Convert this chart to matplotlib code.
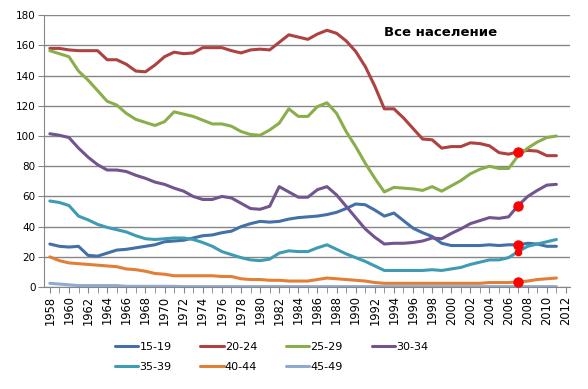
import matplotlib.pyplot as plt
import numpy as np

years = list(range(1958, 2012))

# коэффициенты рождаемости по возрастным группам
v15_19 = [28.5, 27, 26.5, 27, 21, 20.5, 22.5, 24.5, 25, 26, 27, 28, 30, 30.5, 31, 32.5,
          34, 34.5, 36, 37, 40, 42, 43.5, 43, 43.5, 45, 46, 46.5, 47, 48, 49.5, 52, 55,
          54.5, 51, 47, 49, 44, 39, 36, 33.5, 29, 27.5, 27.5, 27.5, 27.5, 28, 27.5, 28,
          28, 29, 28.5, 27, 27]
v20_24 = [158, 158, 157, 156.5, 156.5, 156.5, 150.5, 150.5, 147.5, 143, 142.5, 147,
          152.5, 155.5, 154.5, 155, 158.5, 158.5, 158.5, 156.5, 155, 157, 157.5, 157,
          162, 167, 165.5, 164, 167.5, 170, 168, 163, 156, 146, 133, 118, 118, 112, 105,
          98, 97.5, 92, 93, 93, 95.5, 95, 93.5, 89, 88, 89.5, 90.5, 90, 87, 87]
v25_29 = [156.5, 154.5, 152.5, 143, 137, 130, 123, 120.5, 115, 111, 109, 107, 109.5,
          116, 114.5, 113, 110.5, 108, 108, 106.5, 103, 101, 100.5, 104, 108.5, 118, 113,
          113, 119.5, 122, 115, 103, 93, 82, 72, 63, 66, 65.5, 65, 64, 66.5, 63.5, 67,
          70.5, 75, 78, 80, 78.5, 78.5, 87, 92, 96, 99, 100]
v30_34 = [101.5, 100.5, 99, 92, 86, 81, 77.5, 77.5, 76.5, 74, 72, 69.5, 68, 65.5, 63.5,
          60, 58, 58, 60, 59, 55.5, 52, 51.5, 53.5, 66.5, 63, 59.5, 59.5, 64.5, 66.5, 61,
          53.5, 46, 38.5, 33, 28.5, 29, 29, 29.5, 30.5, 32.5, 32, 35.5, 38.5, 42, 44, 46,
          45.5, 46.5, 54, 60, 64, 67.5, 68]
v35_39 = [57, 56, 54, 47, 44.5, 41.5, 39.5, 38, 36.5, 34, 32, 31.5, 32, 32.5, 32.5, 31.5,
          29.5, 27, 23.5, 21.5, 19.5, 18, 17.5, 18.5, 22.5, 24, 23.5, 23.5, 26, 28, 25,
          22, 19.5, 17, 14, 11, 11, 11, 11, 11, 11.5, 11, 12, 13, 15, 16.5, 18, 18, 19.5,
          23.5, 27, 28.5, 30, 31.5]
v40_44 = [20, 17.5, 16, 15.5, 15, 14.5, 14, 13.5, 12, 11.5, 10.5, 9, 8.5, 7.5, 7.5, 7.5,
          7.5, 7.5, 7, 7, 5.5, 5, 5, 4.5, 4.5, 4, 4, 4, 5, 6, 5.5, 5, 4.5, 4, 3, 2.5,
          2.5, 2.5, 2.5, 2.5, 2.5, 2.5, 2.5, 2.5, 2.5, 2.5, 3, 3, 3, 3.5, 4, 5, 5.5, 6]
v45_49 = [2.5, 2, 1.5, 1, 1, 1, 1, 1, 0.5, 0.5, 0.5, 0.5, 0.5, 0.5, 0.3, 0.3, 0.3, 0.3,
          0.3, 0.3, 0.3, 0.3, 0.3, 0.3, 0.3, 0.3, 0.3, 0.3, 0.3, 0.3, 0.3, 0.3, 0.3, 0.3,
          0.3, 0.3, 0.3, 0.3, 0.3, 0.3, 0.3, 0.3, 0.3, 0.3, 0.3, 0.3, 0.3, 0.3, 0.3, 0.3,
          0.3, 0.3, 0.3, 0.3]

labels = ["15-19", "20-24", "25-29", "30-34", "35-39", "40-44", "45-49"]
series = [v15_19, v20_24, v25_29, v30_34, v35_39, v40_44, v45_49]
colors = ["#4470A8", "#AD4240", "#8AAE4C", "#70558F", "#3E9BB4", "#E27E36", "#8FA9D0"]

mark_year = 2007
mark_series = ["15-19", "20-24", "30-34", "35-39", "40-44"]

fig = plt.figure(figsize=(5.88, 3.89), dpi=100)
ax = fig.add_axes([0.075, 0.262, 0.894, 0.699])

handles = []
for lab, vals, col in zip(labels, series, colors):
    h, = ax.plot(years, vals, color=col, lw=2.2, label=lab, solid_capstyle="round")
    handles.append(h)

# красные точки на 2007 год
i = years.index(mark_year)
for lab, vals in zip(labels, series):
    if lab in mark_series:
        ms = 4.5 if lab == "35-39" else 6.5
        ax.plot(mark_year, vals[i], "o", color="red", ms=ms, zorder=5)

ax.set_xlim(1957.4, 2012.4)
ax.set_ylim(0, 180)
ax.set_yticks(range(0, 181, 20))
ax.set_xticks(range(1958, 2013, 2))
ax.set_xticks(range(1958, 2013), minor=True)
ax.tick_params(axis="x", rotation=90, labelsize=8.3, length=4, which="both",
               color="#868686", pad=2)
ax.tick_params(axis="y", labelsize=7.5, length=4, color="#868686", pad=2)
ax.grid(axis="y", color="#868686", lw=1)
ax.set_axisbelow(True)
for s in ["top", "right"]:
    ax.spines[s].set_visible(False)
for s in ["left", "bottom"]:
    ax.spines[s].set_color("#868686")

ax.text(0.755, 0.935, "Все население", transform=ax.transAxes, ha="center",
        va="center", fontsize=9.5, fontweight="bold")

# легенда построчно: 4 + 3
order = [0, 4, 1, 5, 2, 6, 3]
fig.legend([handles[k] for k in order], [labels[k] for k in order],
           loc="center", bbox_to_anchor=(0.462, 0.083), ncol=4, frameon=False,
           fontsize=8, handlelength=2.1, handletextpad=0.1, columnspacing=2.6,
           labelspacing=0.9)

fig.savefig("out.png", dpi=100)
